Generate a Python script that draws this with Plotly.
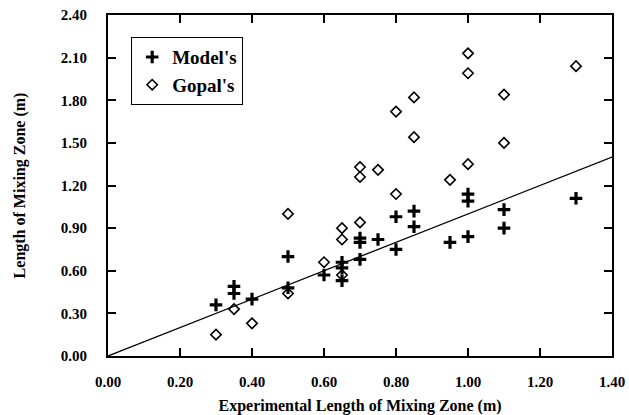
import plotly.graph_objects as go

# Experimental length (x) vs predicted length (y), metres
model_x = [0.30, 0.35, 0.35, 0.40, 0.50, 0.50, 0.60, 0.65, 0.65, 0.65, 0.70, 0.70, 0.70,
           0.75, 0.80, 0.80, 0.85, 0.85, 0.95, 1.00, 1.00, 1.00, 1.10, 1.10, 1.30]
model_y = [0.36, 0.49, 0.44, 0.40, 0.70, 0.48, 0.57, 0.66, 0.62, 0.53, 0.83, 0.80, 0.68,
           0.82, 0.98, 0.75, 1.02, 0.91, 0.80, 1.14, 1.09, 0.84, 1.03, 0.90, 1.11]

gopal_x = [0.30, 0.35, 0.40, 0.50, 0.50, 0.60, 0.65, 0.65, 0.65, 0.70, 0.70, 0.70, 0.75,
           0.80, 0.80, 0.85, 0.85, 0.95, 1.00, 1.00, 1.00, 1.10, 1.10, 1.30]
gopal_y = [0.15, 0.33, 0.23, 1.00, 0.44, 0.66, 0.90, 0.82, 0.57, 1.33, 1.26, 0.94, 1.31,
           1.72, 1.14, 1.82, 1.54, 1.24, 2.13, 1.99, 1.35, 1.84, 1.50, 2.04]

equal_line = [0.0, 1.40]  # 1:1 agreement line

x_ticks = [0.0, 0.2, 0.4, 0.6, 0.8, 1.0, 1.2, 1.4]
y_ticks = [0.0, 0.3, 0.6, 0.9, 1.2, 1.5, 1.8, 2.1, 2.4]

FONT = "Liberation Serif"

fig = go.Figure()
fig.add_trace(go.Scatter(x=equal_line, y=equal_line, mode="lines",
                         line=dict(color="black", width=1.3), showlegend=False,
                         hoverinfo="skip"))
fig.add_trace(go.Scatter(x=model_x, y=model_y, mode="markers", name="<b>Model's</b>",
                         marker=dict(symbol="cross-thin-open", size=9, color="black",
                                     line=dict(color="black", width=3.2))))
fig.add_trace(go.Scatter(x=gopal_x, y=gopal_y, mode="markers", name="<b>Gopal's</b>",
                         marker=dict(symbol="diamond-open", size=8, color="black",
                                     line=dict(color="black", width=1.6))))

axis_common = dict(showgrid=False, zeroline=False, showline=True, linecolor="black",
                   linewidth=2, ticks="inside", ticklen=8, tickwidth=1.5,
                   tickcolor="black", mirror="ticks", automargin=False,
                   tickfont=dict(family=FONT, size=15, color="black"))

fig.update_layout(
    width=629, height=415,
    margin=dict(l=108, r=17, t=15, b=59),
    paper_bgcolor="white", plot_bgcolor="white",
    font=dict(family=FONT, color="black"),
    xaxis=dict(range=[0, 1.4], tickvals=x_ticks,
               ticktext=[f"<b>{v:.2f}</b>" for v in x_ticks],
               ticklabelstandoff=11,
               title=dict(text="<b>Experimental Length of Mixing Zone (m)</b>",
                          font=dict(family=FONT, size=16, color="black"), standoff=13),
               **axis_common),
    yaxis=dict(range=[0, 2.4], tickvals=y_ticks,
               ticktext=[f"<b>{v:.2f}</b>" for v in y_ticks],
               ticklabelstandoff=16,
               title=dict(text="<b>Length of Mixing Zone (m)</b>",
                          font=dict(family=FONT, size=16, color="black"), standoff=31),
               **axis_common),
    legend=dict(x=0.046, y=0.935, xanchor="left", yanchor="top",
                bgcolor="white", bordercolor="black", borderwidth=1,
                font=dict(family=FONT, size=19, color="black"),
                itemwidth=30, tracegroupgap=0),
)

fig.write_html("out.html")
